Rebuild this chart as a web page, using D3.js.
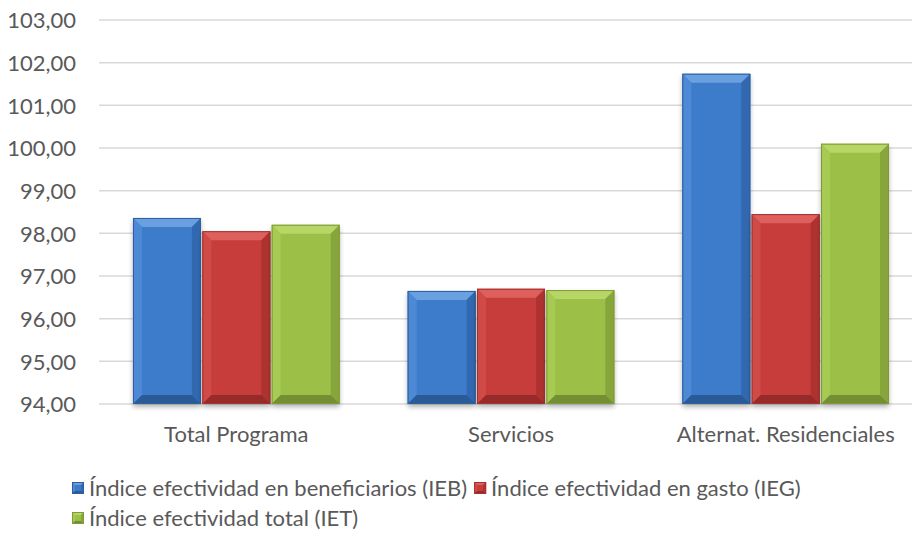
<!DOCTYPE html>
<html><head><meta charset="utf-8">
<script src="https://cdn.jsdelivr.net/npm/d3@7"></script>
<style>body{margin:0;background:#fff;} svg{display:block;}</style>
</head><body>
<svg id="c" width="912" height="544"></svg>
<script>
const categories = ["Total Programa", "Servicios", "Alternat. Residenciales"];
const seriesNames = ["Índice efectividad en beneficiarios (IEB)", "Índice efectividad en gasto (IEG)", "Índice efectividad total (IET)"];
const ieb = [98.36, 96.65, 101.74];
const ieg = [98.05, 96.70, 98.45];
const iet = [98.20, 96.67, 100.10];
const yTicks = [94, 95, 96, 97, 98, 99, 100, 101, 102, 103];

const series = [ieb, ieg, iet];
const colors = [
  {base:"#3C7BCA", light:"#6A9FE0", lside:"#4D89D4", dark:"#2A5A98", rside:"#3168AF", edge:"#2D5F9F"},
  {base:"#C63D3B", light:"#DE605D", lside:"#D04B48", dark:"#962B29", rside:"#AE3330", edge:"#A33230"},
  {base:"#9BBF47", light:"#B6D665", lside:"#A7CA52", dark:"#738E33", rside:"#86A63C", edge:"#7E9A39"}
];
const font = "Lato, 'Open Sans', sans-serif";
const fs = 22;
const svg = d3.select("#c");
const margin = {left:99, right:923, top:20, bottom:404};

const x0 = d3.scaleBand().domain(categories).range([margin.left, margin.right]).paddingInner(0).paddingOuter(0);
const x1 = d3.scaleBand().domain([0,1,2]).range([0, x0.bandwidth()]).paddingInner(0.02).paddingOuter(0.49);
const y = d3.scaleLinear().domain([94, 103]).range([margin.bottom, margin.top]);

// gridlines
svg.append("g").selectAll("line").data(yTicks).join("line")
  .attr("x1", margin.left).attr("x2", 912)
  .attr("y1", d=>y(d)).attr("y2", d=>y(d))
  .attr("stroke", "#d9d9d9").attr("stroke-width", 1.5);

// y axis
const yAxis = d3.axisLeft(y).tickValues(yTicks).tickSize(0).tickPadding(0)
  .tickFormat(d => d3.format(".2f")(d).replace(".", ","));
const ya = svg.append("g").attr("transform", `translate(76,0)`).call(yAxis);
ya.select(".domain").remove();
ya.selectAll("text").attr("font-family", font).attr("font-size", fs).attr("fill", "#595959").attr("dy", "0.35em");

// x axis labels
const xAxis = d3.axisBottom(x0).tickSize(0).tickPadding(0);
const xa = svg.append("g").attr("transform", `translate(0,${margin.bottom})`).call(xAxis);
xa.select(".domain").remove();
xa.selectAll("text").attr("font-family", font).attr("font-size", fs).attr("fill", "#595959").attr("y", 38).attr("dy", 0);

const defs = svg.append("defs");
const f = defs.append("filter").attr("id", "sh").attr("x", "-20%").attr("y", "-20%").attr("width", "140%").attr("height", "140%");
f.append("feGaussianBlur").attr("in", "SourceAlpha").attr("stdDeviation", 2.5).attr("result", "b");
f.append("feOffset").attr("dy", 3).attr("dx", 0).attr("result", "o");
f.append("feComponentTransfer").append("feFuncA").attr("type", "linear").attr("slope", 0.3);
const fm = f.append("feMerge"); fm.append("feMergeNode"); fm.append("feMergeNode").attr("in", "SourceGraphic");

function drawBevelBar(g, bx, by, bw, bh, c, b, shadow) {
  b = Math.min(b, bh/2, bw/2);
  const grp = g.append("g");
  const r = grp.append("rect").attr("x", bx).attr("y", by).attr("width", bw).attr("height", bh)
    .attr("fill", c.base);
  if (shadow) r.attr("filter", "url(#sh)");
  const pts = (arr) => arr.map(p => p.join(",")).join(" ");
  const x2 = bx + bw, y2 = by + bh;
  grp.append("polygon").attr("points", pts([[bx,by],[x2,by],[x2-b,by+b],[bx+b,by+b]])).attr("fill", c.light);
  grp.append("polygon").attr("points", pts([[bx,by],[bx+b,by+b],[bx+b,y2-b],[bx,y2]])).attr("fill", c.lside);
  grp.append("polygon").attr("points", pts([[x2,by],[x2,y2],[x2-b,y2-b],[x2-b,by+b]])).attr("fill", c.rside);
  grp.append("polygon").attr("points", pts([[bx,y2],[bx+b,y2-b],[x2-b,y2-b],[x2,y2]])).attr("fill", c.dark);
  grp.append("rect").attr("x", bx+0.5).attr("y", by+0.5).attr("width", bw-1).attr("height", bh-1)
    .attr("fill", "none").attr("stroke", c.edge).attr("stroke-width", 1);
}

const barsG = svg.append("g");
categories.forEach((cat, ci) => {
  series.forEach((s, si) => {
    const bx = x0(cat) + x1(si);
    const bw = x1.bandwidth();
    const top = y(s[ci]);
    drawBevelBar(barsG, bx, top, bw, y(94) - top, colors[si], 9, true);
  });
});

// legend
const lg = svg.append("g");
function legendItem(i, lx, ly) {
  drawBevelBar(lg, lx, ly - 6, 12, 12, colors[i], 3, false);
  const t = lg.append("text").attr("x", lx + 17).attr("y", ly).attr("dy", "0.35em")
    .attr("font-family", font).attr("font-size", fs).attr("fill", "#595959")
    .text(seriesNames[i]);
  return lx + 17 + t.node().getComputedTextLength();
}
const end1 = legendItem(0, 72, 488);
legendItem(1, end1 + 7, 488);
legendItem(2, 72, 518);
</script>
</body></html>
